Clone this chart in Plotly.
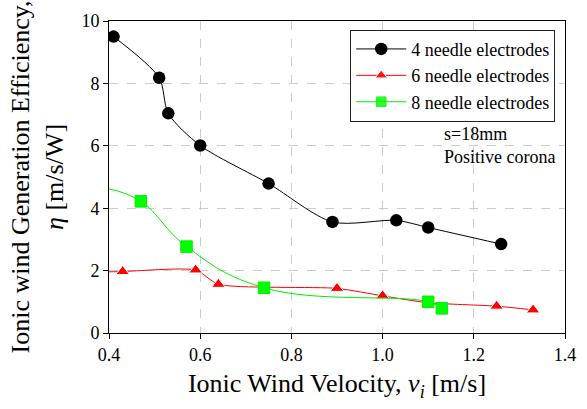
import plotly.graph_objects as go

# 4 needle electrodes
x4 = [0.41, 0.51, 0.53, 0.60, 0.75, 0.89, 1.03, 1.10, 1.26]
y4 = [9.50, 8.18, 7.04, 6.01, 4.79, 3.56, 3.61, 3.38, 2.85]
# 6 needle electrodes (first point is the curve start at the axis, no marker)
x6 = [0.40, 0.43, 0.59, 0.64, 0.90, 1.00, 1.10, 1.25, 1.33]
y6 = [1.96, 1.97, 2.02, 1.56, 1.43, 1.19, 0.97, 0.86, 0.74]
m6 = [0, 1, 1, 1, 1, 1, 1, 1, 1]
# 8 needle electrodes (first point is the curve start at the axis, no marker)
x8 = [0.40, 0.47, 0.57, 0.74, 1.10, 1.13]
y8 = [4.62, 4.22, 2.77, 1.45, 1.00, 0.79]
m8 = [0, 1, 1, 1, 1, 1]

xticks = [0.4, 0.6, 0.8, 1.0, 1.2, 1.4]
yticks = [0, 2, 4, 6, 8, 10]

FONT = "Liberation Serif"

fig = go.Figure()
fig.add_trace(go.Scatter(
    x=x4, y=y4, mode="lines+markers", name="4 needle electrodes",
    line=dict(color="black", width=1, shape="spline", smoothing=0.8),
    marker=dict(symbol="circle", size=12.5, color="black")))
fig.add_trace(go.Scatter(
    x=x6, y=y6, mode="lines+markers", name="6 needle electrodes",
    line=dict(color="#ff0000", width=1, shape="spline", smoothing=0.6),
    marker=dict(symbol="triangle-up", size=[12 * v for v in m6], color="#ff0000",
                opacity=m6)))
fig.add_trace(go.Scatter(
    x=x8, y=y8, mode="lines+markers", name="8 needle electrodes",
    line=dict(color="#00ee00", width=1, shape="spline", smoothing=1.2),
    marker=dict(symbol="square", size=[11.5 * v for v in m8], color="#00ff00",
                opacity=m8)))

fig.add_annotation(x=0.73, y=0.6, xref="paper", yref="paper", xanchor="left",
                   yanchor="middle", showarrow=False, align="left",
                   text="s=18mm<br>Positive corona",
                   font=dict(family=FONT, size=18, color="black"))

fig.update_layout(
    width=587, height=409,
    margin=dict(l=109, r=11, t=13, b=76),
    paper_bgcolor="white", plot_bgcolor="white",
    font=dict(family=FONT, color="black"),
    showlegend=True,
    legend=dict(x=0.529, y=0.972, xanchor="left", yanchor="top",
                bgcolor="white", bordercolor="#222", borderwidth=1,
                font=dict(family=FONT, size=18), tracegroupgap=0,
                itemwidth=50),
    xaxis=dict(range=[0.4, 1.4], tickvals=xticks, tickformat=".1f",
               showgrid=True, gridcolor="#cccccc", griddash="dash", gridwidth=1,
               showline=True, linecolor="black", linewidth=1, mirror=True,
               ticks="outside", ticklen=5, tickcolor="black",
               tickfont=dict(family=FONT, size=18), zeroline=False,
               title=dict(text="Ionic Wind Velocity, <i>v</i><sub><i>i</i></sub> [m/s]",
                          font=dict(family=FONT, size=26), standoff=10)),
    yaxis=dict(range=[0, 10], tickvals=yticks,
               showgrid=True, gridcolor="#cccccc", griddash="dash", gridwidth=1,
               showline=True, linecolor="black", linewidth=1, mirror=True,
               ticks="outside", ticklen=5, tickcolor="black",
               tickfont=dict(family=FONT, size=18), zeroline=False,
               title=dict(text="Ionic wind Generation Efficiency,<br><i>η</i> [m/s/W]",
                          font=dict(family=FONT, size=26), standoff=10)),
)

fig.write_html("out.html")
